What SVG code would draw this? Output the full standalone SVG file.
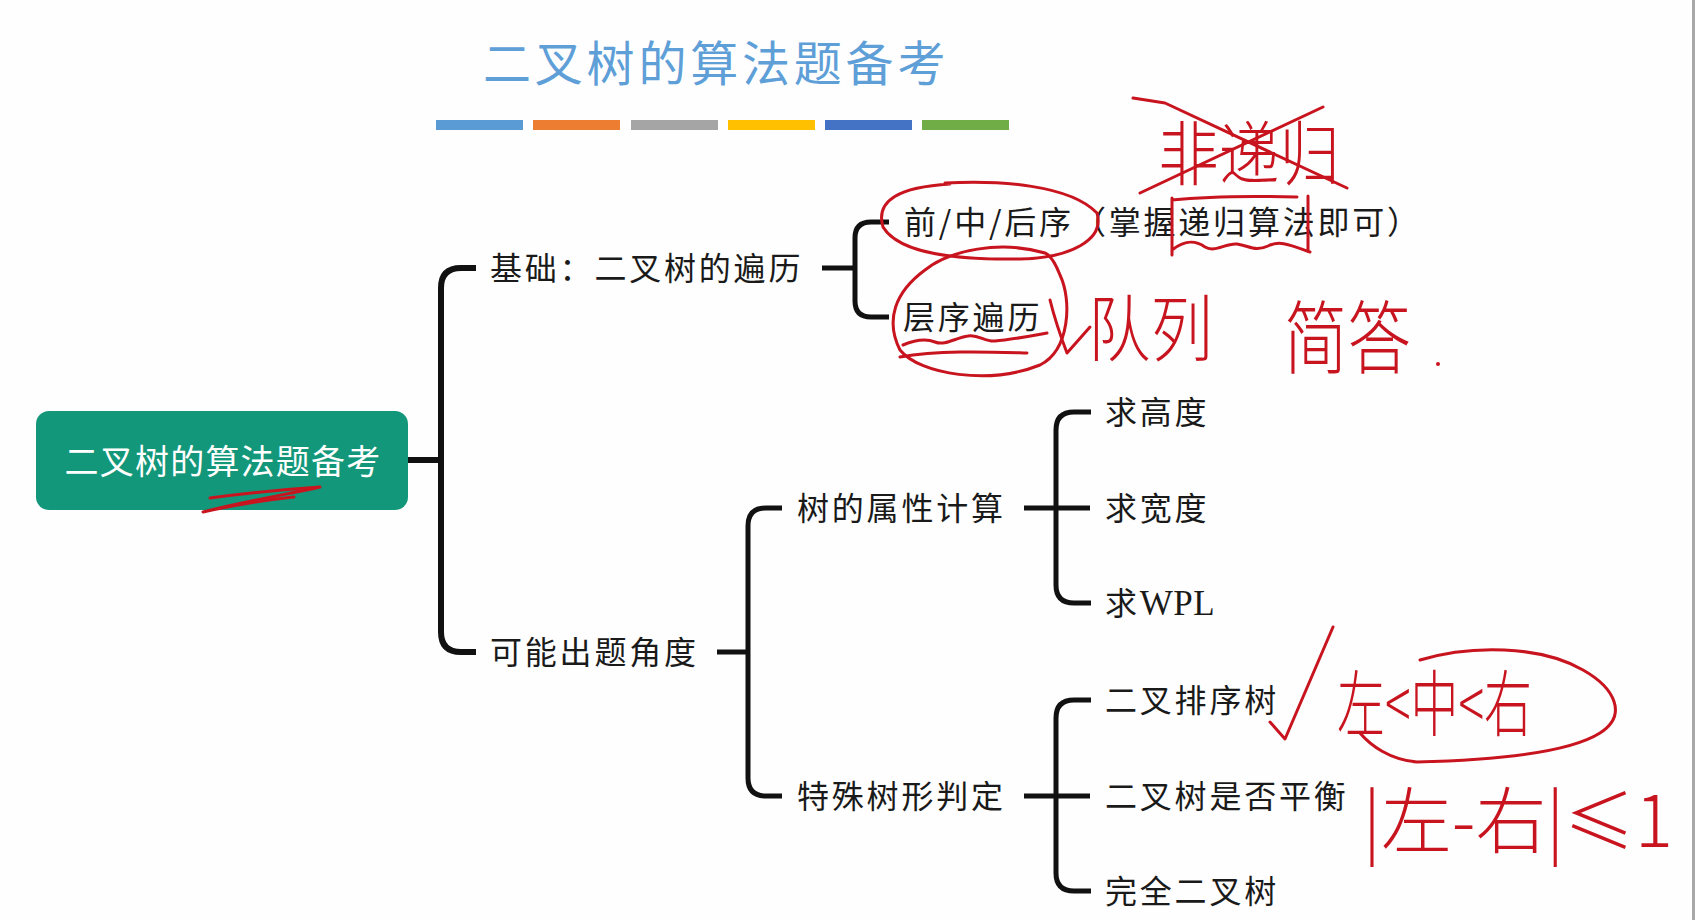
<svg xmlns="http://www.w3.org/2000/svg" width="1695" height="920" viewBox="0 0 1695 920">
<style>
.t{font-family:"Noto Sans CJK SC","Noto Sans",sans-serif;font-size:32px;fill:#1a1a1a;letter-spacing:2.8px}
.c{fill:none;stroke:#111;stroke-width:5;stroke-linecap:butt;stroke-linejoin:round}
.r{fill:none;stroke:#c8141e;stroke-width:3;stroke-linecap:round;stroke-linejoin:round}
.rt{font-family:"Noto Sans CJK SC",sans-serif;fill:#c8141e;font-weight:300}
</style>
<rect width="1695" height="920" fill="#fefefe"/>
<rect x="1692" y="0" width="3" height="920" fill="#a8a8a8"/>

<g id="title">
<text x="483" y="81" font-family="'Noto Sans CJK SC',sans-serif" font-size="48" fill="#5f9fd8" letter-spacing="3.8">二叉树的算法题备考</text>
<rect x="436" y="120" width="87" height="10" fill="#5b9bd5"/>
<rect x="533" y="120" width="87" height="10" fill="#ed7d31"/>
<rect x="631" y="120" width="87" height="10" fill="#a5a5a5"/>
<rect x="728" y="120" width="87" height="10" fill="#ffc000"/>
<rect x="825" y="120" width="87" height="10" fill="#4472c4"/>
<rect x="922" y="120" width="87" height="10" fill="#70ad47"/>
</g>

<g id="connectors">
<path class="c" style="stroke-width:6" d="M408,460 H441"/>
<path class="c" style="stroke-width:6" d="M476,268 H461 Q441,268 441,288 V632 Q441,652 461,652 H476"/>
<path class="c" d="M822,268 H855"/>
<path class="c" d="M889,222 H871 Q855,222 855,238 V301 Q855,317 871,317 H889"/>
<path class="c" d="M717,652 H748"/>
<path class="c" d="M782,508 H766 Q748,508 748,526 V778 Q748,796 766,796 H782"/>
<path class="c" d="M1024,508 H1090"/>
<path class="c" d="M1091,412 H1074 Q1056,412 1056,430 V585 Q1056,603 1074,603 H1091"/>
<path class="c" d="M1024,796 H1090"/>
<path class="c" d="M1091,700 H1074 Q1056,700 1056,718 V873 Q1056,891 1074,891 H1091"/>
</g>

<g id="root">
<rect x="36" y="411" width="372" height="99" rx="13" fill="#13977a"/>
<text x="223" y="474" text-anchor="middle" font-family="'Noto Sans CJK SC',sans-serif" font-size="34" fill="#ffffff" letter-spacing="1.2">二叉树的算法题备考</text>
</g>

<g id="n-basic"><text class="t" x="490" y="280">基础：二叉树的遍历</text></g>
<g id="n-order"><text class="t" x="904" y="234">前/中/后序（掌握递归算法即可）</text></g>
<g id="n-level"><text class="t" x="903" y="329">层序遍历</text></g>
<g id="n-angle"><text class="t" x="490" y="664">可能出题角度</text></g>
<g id="n-attr"><text class="t" x="797" y="520">树的属性计算</text></g>
<g id="n-height"><text class="t" x="1105" y="424">求高度</text></g>
<g id="n-width"><text class="t" x="1105" y="520">求宽度</text></g>
<g id="n-wpl"><text class="t" x="1105" y="615">求<tspan font-family="'Liberation Serif',serif" font-size="35" letter-spacing="0.5">WPL</tspan></text></g>
<g id="n-special"><text class="t" x="797" y="808">特殊树形判定</text></g>
<g id="n-bst"><text class="t" x="1105" y="712">二叉排序树</text></g>
<g id="n-balance"><text class="t" x="1105" y="808">二叉树是否平衡</text></g>
<g id="n-complete"><text class="t" x="1105" y="903">完全二叉树</text></g>

<g id="annotations">
<path class="r" d="M210,498 C240,494 290,489 320,487 C300,492 250,500 203,512 C230,506 265,500 294,497"/>
<path class="r" d="M945,183 C1000,180 1070,185 1097,213 C1105,240 1070,258 1020,259 C960,260 900,255 883,227 C875,200 900,187 950,184"/>
<path class="r" d="M1045,253 C1000,240 950,250 925,270 C895,292 885,320 900,350 C920,375 990,385 1040,365 C1070,350 1072,300 1060,275 C1055,262 1050,255 1045,253"/>
<path class="r" d="M903,345 C915,340 925,338 935,342 C945,346 955,338 968,336 C978,334 985,342 995,341 C1010,340 1030,336 1047,333"/>
<path class="r" d="M900,357 C940,350 990,352 1027,353"/>
<path class="r" d="M1050,300 C1055,320 1062,340 1067,353 L1090,327"/>
<path class="r" d="M1172,198 V255 M1172,200 C1210,196 1260,196 1297,197 M1308,196 V250 M1172,250 C1185,240 1195,240 1205,247 C1215,253 1225,243 1237,244 C1250,246 1255,252 1268,246 C1280,240 1290,245 1310,252"/>
<path class="r" d="M1133,98 L1165,103 L1347,188 M1323,107 L1140,193"/>
<text class="rt" x="1158" y="180" font-size="70" textLength="182" lengthAdjust="spacingAndGlyphs">非递归</text>
<text class="rt" x="1088" y="355" font-size="72" textLength="125" lengthAdjust="spacingAndGlyphs">队列</text>
<text class="rt" x="1284" y="367" font-size="80" textLength="127" lengthAdjust="spacingAndGlyphs">简答</text>
<circle cx="1438" cy="364" r="2" fill="#c8141e"/>
<path class="r" d="M1270,722 L1285,739 L1333,627"/>
<text class="rt" x="1337" y="730" font-size="72" textLength="195" lengthAdjust="spacingAndGlyphs">左&lt;中&lt;右</text>
<path class="r" d="M1420,660 C1470,645 1540,645 1583,670 C1615,688 1628,715 1600,733 C1570,752 1500,760 1417,762 C1390,760 1370,745 1360,733"/>
<text class="rt" x="1363" y="847" font-size="72" textLength="310" lengthAdjust="spacingAndGlyphs">|左-右|≤1</text>
</g>
</svg>
